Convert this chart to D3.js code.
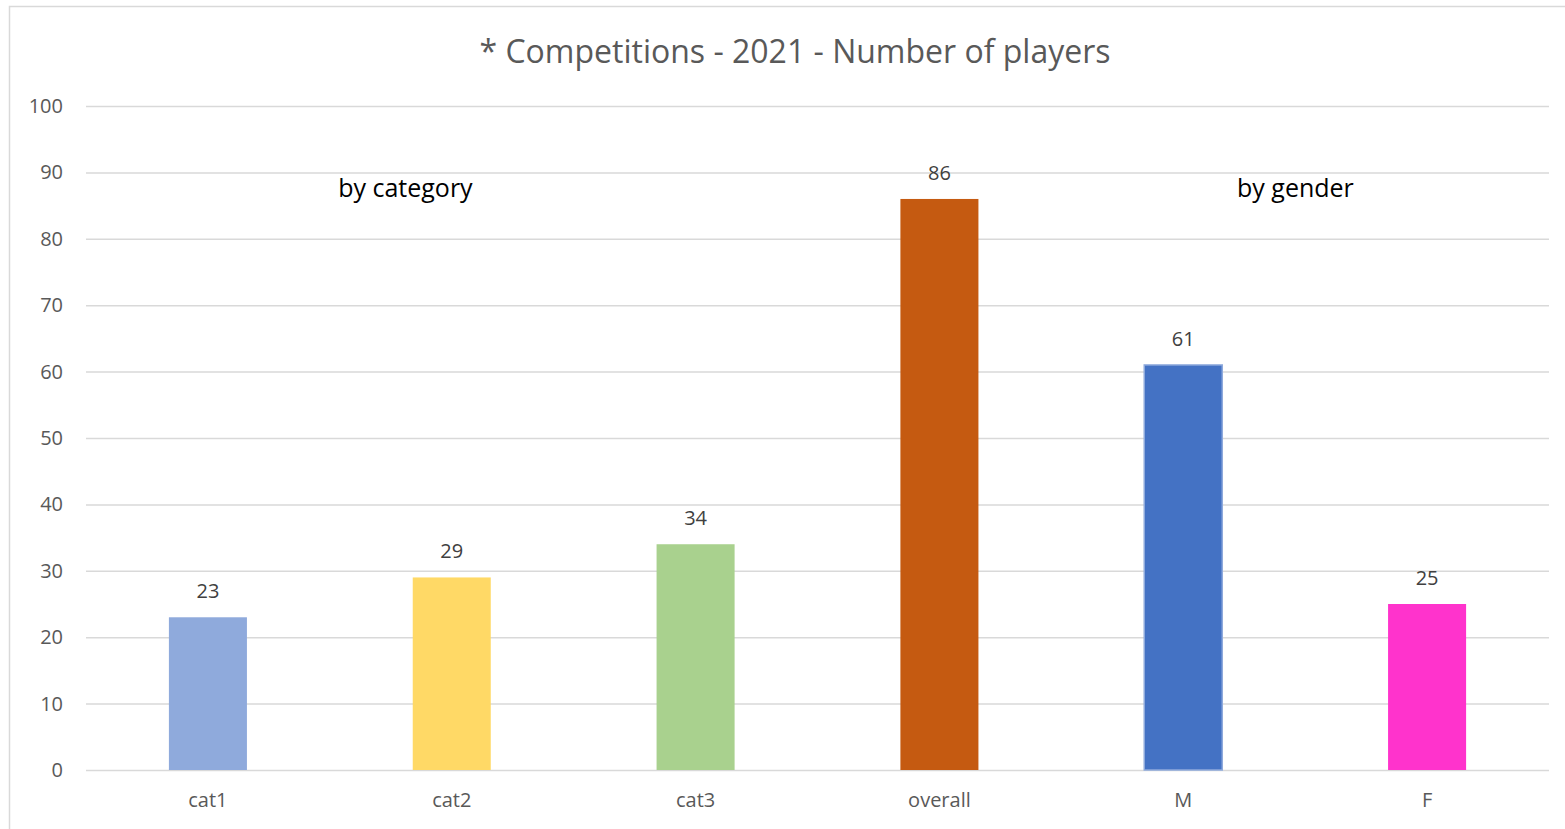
<!DOCTYPE html>
<html>
<head>
<meta charset="utf-8">
<script src="https://cdn.jsdelivr.net/npm/d3@7"></script>
<style>
  body { margin: 0; background: #fff; }
  svg { display: block; }
  svg text { font-family: "Open Sans", "Noto Sans", sans-serif; }
</style>
</head>
<body>
<div id="chart"></div>
<script>
const categories = ["cat1", "cat2", "cat3", "overall", "M", "F"];
const players = [23, 29, 34, 86, 61, 25];
const barColors = ["#8FAADC", "#FFD966", "#A9D18E", "#C55A11", "#4472C4", "#FF33CC"];
const yTicks = [0, 10, 20, 30, 40, 50, 60, 70, 80, 90, 100];
const groupNotes = [
  { text: "by category", at: "cat2", shift: -0.19 },
  { text: "by gender", at: "M", shift: 0.46 }
];

const width = 1565;
const height = 829;
const margins = {top: 106, right: 16, bottom: 59, left: 86};

const svg = d3.select("#chart").append("svg")
  .attr("width", width)
  .attr("height", height);

// chart frame
svg.append("rect")
  .attr("x", 9.5).attr("y", 6.5)
  .attr("width", width + 10).attr("height", height + 10)
  .attr("fill", "#fff").attr("stroke", "#d9d9d9").attr("stroke-width", 1.5);

const xScale = d3.scaleBand()
  .domain(categories)
  .range([margins.left, width - margins.right])
  .paddingInner(0.68)
  .paddingOuter(0.34);

const yScale = d3.scaleLinear()
  .domain([0, 100])
  .range([height - margins.bottom, margins.top]);

// gridlines + y labels
const yAxis = d3.axisLeft(yScale)
  .tickValues(yTicks)
  .tickSize(-(width - margins.right - margins.left))
  .tickPadding(23);

svg.append("g")
  .attr("transform", "translate(" + margins.left + ",0)")
  .call(yAxis)
  .call(g => g.select(".domain").remove())
  .call(g => g.selectAll(".tick line").attr("stroke", "#d9d9d9").attr("stroke-width", 1.5))
  .call(g => g.selectAll(".tick text").attr("fill", "#595959").style("font-size", "20px"));

const xAxis = d3.axisBottom(xScale).tickSize(0).tickPadding(23);
svg.append("g")
  .attr("transform", "translate(0," + (height - margins.bottom) + ")")
  .call(xAxis)
  .call(g => g.select(".domain").remove())
  .call(g => g.selectAll(".tick text").attr("fill", "#595959").style("font-size", "20px"));

svg.selectAll("rect.bar").data(players).enter().append("rect")
  .attr("class", "bar")
  .attr("x", (d, i) => xScale(categories[i]))
  .attr("y", d => yScale(d))
  .attr("width", xScale.bandwidth())
  .attr("height", d => yScale(0) - yScale(d))
  .attr("fill", (d, i) => barColors[i])
  .attr("stroke", (d, i) => categories[i] === "M" ? "#8FAADC" : "none")
  .attr("stroke-width", 1.5);

svg.selectAll("text.value").data(players).enter().append("text")
  .attr("class", "value")
  .attr("x", (d, i) => xScale(categories[i]) + xScale.bandwidth() / 2)
  .attr("y", d => yScale(d) - 19)
  .attr("text-anchor", "middle")
  .attr("fill", "#404040")
  .style("font-size", "20px")
  .text(d => d);

// notes over the two groups
svg.selectAll("text.note").data(groupNotes).enter().append("text")
  .attr("class", "note")
  .attr("x", d => xScale(d.at) + xScale.bandwidth() / 2 + d.shift * xScale.step())
  .attr("y", yScale(86.3))
  .attr("text-anchor", "middle")
  .attr("fill", "#000")
  .style("font-size", "25px")
  .text(d => d.text);

svg.append("text")
  .attr("x", 795)
  .attr("y", 63)
  .attr("text-anchor", "middle")
  .attr("fill", "#595959")
  .style("font-size", "32px")
  .text("* Competitions - 2021 - Number of players");
</script>
</body>
</html>
